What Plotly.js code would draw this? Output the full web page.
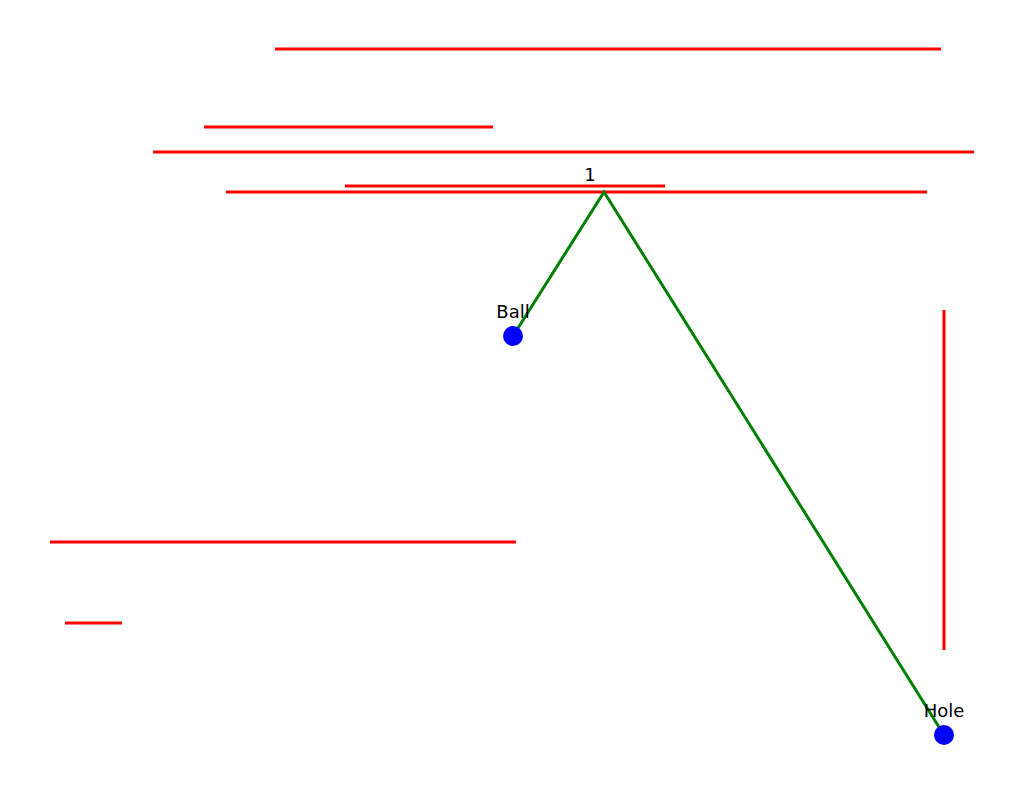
<html><head><script src="https://cdn.plot.ly/plotly-3.0.1.min.js"></script></head>
<body style="margin:0"><div id="plot" style="width:1024px;height:785px"></div>
<script>
// walls: start/end coordinates
const wallX0 = [275, 204, 153, 345, 226, 944, 50, 65];
const wallX1 = [941, 493, 974, 665, 927, 944, 516, 122];
const wallY0 = [49, 127, 152, 186, 192, 310, 542, 623];
const wallY1 = [49, 127, 152, 186, 192, 650, 542, 623];
const pathX = [513, 604, 944];
const pathY = [336, 192, 735];
const pointNames = ['Ball', 'Hole'];
const pointX = [513, 944];
const pointY = [336, 735];

const data = [];
for (let i = 0; i < wallX0.length; i++) {
    data.push({x: [wallX0[i], wallX1[i]], y: [wallY0[i], wallY1[i]], mode: 'lines',
        line: {color: 'red', width: 3}, hoverinfo: 'skip'});
}
data.push({x: pathX, y: pathY, mode: 'lines', line: {color: 'green', width: 3}});
data.push({x: pointX, y: pointY, mode: 'markers+text', text: pointNames, textposition: 'top center',
    marker: {color: 'blue', size: 20}, textfont: {size: 18, color: 'black', family: 'DejaVu Sans'}});
data.push({x: [pathX[1] - 14], y: [pathY[1] - 16], mode: 'text', text: ['1'],
    textfont: {size: 18, color: 'black', family: 'DejaVu Sans'}});

const layout = {
    showlegend: false,
    margin: {l: 0, r: 0, t: 0, b: 0},
    xaxis: {range: [0, 1024], visible: false},
    yaxis: {range: [785, 0], visible: false},
    plot_bgcolor: 'white',
    paper_bgcolor: 'white'
};
Plotly.newPlot('plot', data, layout, {staticPlot: true});
</script></body></html>
